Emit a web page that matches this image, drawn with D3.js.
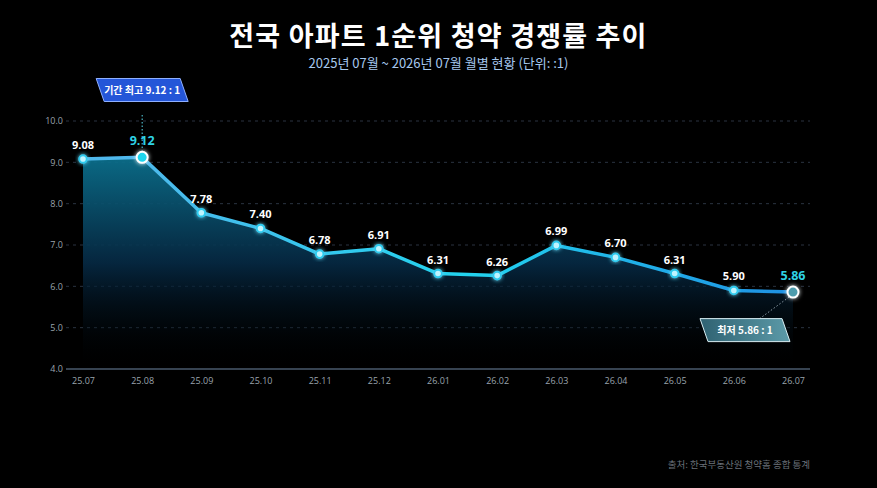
<!DOCTYPE html>
<html>
<head>
<meta charset="utf-8">
<script src="https://cdn.jsdelivr.net/npm/d3@7"></script>
<style>
  html, body { margin: 0; padding: 0; background: #000; }
  svg { display: block; font-family: "Noto Sans CJK KR", "Noto Sans", sans-serif; }
</style>
</head>
<body>
<div id="chart"></div>
<script>
// data
var months = ["25.07","25.08","25.09","25.10","25.11","25.12","26.01","26.02","26.03","26.04","26.05","26.06","26.07"];
var rates = [9.08, 9.12, 7.78, 7.40, 6.78, 6.91, 6.31, 6.26, 6.99, 6.70, 6.31, 5.90, 5.86];
var yTicks = [4, 5, 6, 7, 8, 9, 10];

var W = 877, H = 488;
var margin = {top: 121, right: 67, bottom: 119, left: 66};
var width = W - margin.left - margin.right,
    height = H - margin.top - margin.bottom;

var svg = d3.select("#chart").append("svg")
  .attr("width", W).attr("height", H);

var defs = svg.append("defs");

// area gradient
var ag = defs.append("linearGradient").attr("id", "areaGrad")
  .attr("x1", 0).attr("y1", 0).attr("x2", 0).attr("y2", 1);
ag.append("stop").attr("offset", "0%").attr("stop-color", "#0b6f8c").attr("stop-opacity", 0.95);
ag.append("stop").attr("offset", "50%").attr("stop-color", "#062a45").attr("stop-opacity", 0.9);
ag.append("stop").attr("offset", "100%").attr("stop-color", "#000").attr("stop-opacity", 0);

// line gradient
var lg = defs.append("linearGradient").attr("id", "lineGrad")
  .attr("gradientUnits", "userSpaceOnUse")
  .attr("x1", margin.left).attr("y1", 0).attr("x2", W - margin.right).attr("y2", 0);
lg.append("stop").attr("offset", "0%").attr("stop-color", "#4fb8ec");
lg.append("stop").attr("offset", "45%").attr("stop-color", "#22d3ee");
lg.append("stop").attr("offset", "100%").attr("stop-color", "#1e7fe0");

var minGrad = defs.append("linearGradient").attr("id", "minGrad")
  .attr("x1", 0).attr("y1", 0).attr("x2", 1).attr("y2", 0);
minGrad.append("stop").attr("offset", "0%").attr("stop-color", "#2f6272");
minGrad.append("stop").attr("offset", "100%").attr("stop-color", "#5c9aa8");

var glow = defs.append("filter").attr("id", "glow")
  .attr("x", "-50%").attr("y", "-50%").attr("width", "200%").attr("height", "200%");
glow.append("feGaussianBlur").attr("stdDeviation", 2).attr("result", "b");
var fm = glow.append("feMerge");
fm.append("feMergeNode").attr("in", "b");
fm.append("feMergeNode").attr("in", "SourceGraphic");

// title
svg.append("text").attr("x", W / 2).attr("y", 46)
  .attr("text-anchor", "middle").attr("fill", "#fff")
  .attr("font-size", 27).attr("font-weight", "bold").attr("letter-spacing", 1.2)
  .text("전국 아파트 1순위 청약 경쟁률 추이");
svg.append("text").attr("x", W / 2).attr("y", 68)
  .attr("text-anchor", "middle").attr("fill", "#a6c8ee")
  .attr("font-size", 13)
  .text("2025년 07월 ~ 2026년 07월 월별 현황 (단위: :1)");

var g = svg.append("g").attr("transform", "translate(" + margin.left + "," + margin.top + ")");

var x = d3.scalePoint().domain(months).range([17, width - 17]);
var y = d3.scaleLinear().domain([4, 10]).range([height, 0]);

// grid
g.append("g").selectAll("line").data(yTicks.filter(function(d){ return d > 4; }))
  .join("line")
  .attr("x1", 0).attr("x2", width)
  .attr("y1", function(d){ return y(d); }).attr("y2", function(d){ return y(d); })
  .attr("stroke", "#2a3340").attr("stroke-dasharray", "3,4");

// y axis
var yAxis = g.append("g")
  .call(d3.axisLeft(y).tickValues(yTicks).tickFormat(d3.format(".1f")).tickSize(0).tickPadding(3));
yAxis.select(".domain").remove();
yAxis.selectAll("text").attr("fill", "#9aa3ad").attr("font-size", 9)
  .attr("font-family", "'Open Sans', sans-serif");

// x axis
var xAxis = g.append("g").attr("transform", "translate(0," + height + ")")
  .call(d3.axisBottom(x).tickSize(0).tickPadding(9));
xAxis.select(".domain").attr("stroke", "#4a5a6c").attr("stroke-width", 1.5)
  .attr("d", "M0,0H" + width);
xAxis.selectAll("text").attr("fill", "#9aa3ad").attr("font-size", 9)
  .attr("font-family", "'Open Sans', sans-serif");

// area
var area = d3.area()
  .x(function(d, i){ return x(months[i]); })
  .y0(height)
  .y1(function(d){ return y(d); });
g.append("path").datum(rates)
  .attr("d", area).attr("fill", "url(#areaGrad)");

// line
var line = d3.line()
  .x(function(d, i){ return x(months[i]); })
  .y(function(d){ return y(d); });
g.append("path").datum(rates)
  .attr("d", line).attr("fill", "none")
  .attr("stroke", "url(#lineGrad)").attr("stroke-width", 3.5)
  .attr("stroke-linejoin", "round");

var maxI = d3.maxIndex(rates), minI = d3.minIndex(rates);

// points
g.append("g").selectAll("circle")
  .data(rates.map(function(d, i){ return {v: d, i: i}; })
    .filter(function(d){ return d.i !== maxI && d.i !== minI; }))
  .join("circle")
  .attr("cx", function(d){ return x(months[d.i]); })
  .attr("cy", function(d){ return y(d.v); })
  .attr("r", 3.8)
  .attr("fill", "#bff4ff").attr("stroke", "#2ecbef").attr("stroke-width", 2)
  .attr("filter", "url(#glow)");

// max dotted line
g.append("line")
  .attr("x1", x(months[maxI])).attr("x2", x(months[maxI]))
  .attr("y1", -6).attr("y2", y(rates[maxI]) - 7)
  .attr("stroke", "#5ad8ea").attr("stroke-dasharray", "1.5,2").attr("stroke-width", 1);

// min dotted line
g.append("line")
  .attr("x1", x(months[minI]) - 4).attr("x2", x(months[minI]) - 34)
  .attr("y1", y(rates[minI]) + 5).attr("y2", y(rates[minI]) + 27)
  .attr("stroke", "#8a9aa6").attr("stroke-dasharray", "1.5,2").attr("stroke-width", 1);

// max point
g.append("circle")
  .attr("cx", x(months[maxI])).attr("cy", y(rates[maxI])).attr("r", 5.5)
  .attr("fill", "#1fd6ee").attr("stroke", "#fff").attr("stroke-width", 2)
  .attr("filter", "url(#glow)");

// min point
g.append("circle")
  .attr("cx", x(months[minI])).attr("cy", y(rates[minI])).attr("r", 5.5)
  .attr("fill", "#4e9cad").attr("stroke", "#fff").attr("stroke-width", 2)
  .attr("filter", "url(#glow)");

// value labels
g.append("g").selectAll("text")
  .data(rates.map(function(d, i){ return {v: d, i: i}; }))
  .join("text")
  .attr("x", function(d){ return x(months[d.i]); })
  .attr("y", function(d){ return y(d.v) - (d.i === maxI || d.i === minI ? 12 : 10); })
  .attr("text-anchor", "middle")
  .attr("font-size", function(d){ return d.i === maxI || d.i === minI ? 12.5 : 11; })
  .attr("font-weight", "bold")
  .attr("fill", function(d){ return d.i === maxI || d.i === minI ? "#2fd3e6" : "#fff"; })
  .attr("font-family", "'Open Sans', sans-serif")
  .text(function(d){ return d3.format(".2f")(d.v); });

// parallelogram callouts
function callout(cx, cy, w, h, fill, stroke, txt) {
  var s = 4;
  var pts = [[cx - w/2 - s, cy - h/2], [cx + w/2 - s, cy - h/2], [cx + w/2 + s, cy + h/2], [cx - w/2 + s, cy + h/2]];
  var c = g.append("g");
  c.append("polygon").attr("points", pts.map(function(p){ return p.join(","); }).join(" "))
    .attr("fill", fill).attr("stroke", stroke).attr("stroke-width", 1);
  c.append("text").attr("x", cx).attr("y", cy + 3.5)
    .attr("text-anchor", "middle").attr("fill", "#fff")
    .attr("font-size", 10).attr("font-weight", "bold")
    .text(txt);
}
callout(x(months[maxI]), -31, 84, 23, "#2456d8", "#8fb0ff", "기간 최고 " + d3.format(".2f")(rates[maxI]) + " : 1");
callout(x(months[minI]) - 48, y(rates[minI]) + 38, 82, 23, "url(#minGrad)", "#d8eef3", "최저 " + d3.format(".2f")(rates[minI]) + " : 1");

// source
svg.append("text").attr("x", W - margin.right).attr("y", 468)
  .attr("text-anchor", "end").attr("fill", "#6a7079").attr("font-size", 9.5)
  .text("출처: 한국부동산원 청약홈 종합 통계");
</script>
</body>
</html>
